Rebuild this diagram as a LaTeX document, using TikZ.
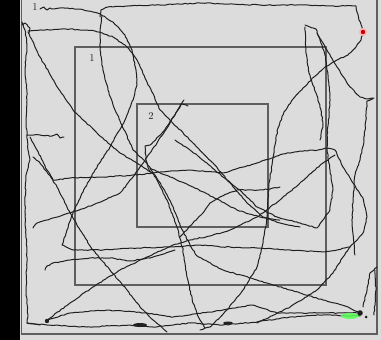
\documentclass[tikz,border=0pt]{standalone}
\usetikzlibrary{decorations.pathmorphing}
\definecolor{bgc}{RGB}{220,220,220}
\definecolor{sqc}{RGB}{95,95,95}
\definecolor{trc}{RGB}{32,32,32}
\pgfmathsetseed{7}
\tikzset{
  traj/.style={draw=trc,line width=1pt,line join=round,line cap=round,
    decorate,decoration={random steps,segment length=2.5pt,amplitude=0.45pt}},
  sq/.style={draw=sqc,line width=1.4pt},
  lab/.style={font=\fontsize{10.5}{12}\selectfont,text=trc,inner sep=0pt}
}
\begin{document}
\begin{tikzpicture}[x=1pt,y=-1pt]
\useasboundingbox (0,0) rectangle (381,340);
\fill[black] (0,0) rectangle (20,340);
\fill[bgc] (20,0) rectangle (381,340);
% outer frame
\draw[sq,line width=1.2pt] (21.5,0) -- (21.5,334) -- (377,334) -- (377,0);
% squares
\draw[sq] (75,47) rectangle (326,285);
\draw[sq] (137,104) rectangle (268,227);
% labels
\node[lab] (l0) at (35,7) {1};
\node[lab] (l1) at (92,58) {1};
\node[lab] (l2) at (151,116) {2};
% trajectory
\draw[traj] (100,17) -- (101,10) -- (108,7) -- (130,6) -- (160,5) -- (200,3) -- (230,4) -- (260,5) -- (300,5) -- (330,6) -- (356,6) -- (357,12) -- (359,20) -- (362,27) -- (363,32);
\draw[traj] (363,32) -- (361,40) -- (356,47) -- (348,55) -- (337,60) -- (325,67) -- (314,77) -- (303,88) -- (293,99) -- (284,112) -- (278,128) -- (275,145) -- (272,165) -- (269,183) -- (267,217) -- (263,243) -- (257,267) -- (243,290) -- (227,310) -- (210,327) -- (200,330);
\draw[traj] (22,22) -- (25,30) -- (27,45) -- (25,70) -- (27,95) -- (26,120) -- (27,135) -- (28,150) -- (30,160) -- (26,175) -- (25,200) -- (25,217) -- (27,250) -- (26,290) -- (28,315) -- (27,323) -- (40,325);
\draw[traj] (22,25) -- (25,23) -- (30,28) -- (29,33);
\draw[traj] (27,135) -- (40,135) -- (52,136) -- (57,134) -- (60,138) -- (64,137);
\draw[traj] (30,137) -- (37,150) -- (47,170) -- (57,187) -- (67,207) -- (80,230) -- (93,250) -- (110,270) -- (127,290) -- (140,307) -- (153,320) -- (167,332);
\draw[traj] (33,157) -- (40,163) -- (47,172) -- (53,180) -- (70,178) -- (103,177) -- (137,175) -- (160,172) -- (190,170) -- (223,173) -- (257,163) -- (283,154) -- (300,151) -- (318,150) -- (327,148) -- (335,150) -- (343,167) -- (353,183) -- (363,198) -- (367,217) -- (363,233) -- (350,247) -- (337,250) -- (323,252) -- (290,250) -- (257,248) -- (223,247) -- (200,245) -- (170,247) -- (137,248) -- (103,250) -- (73,250) -- (62,245) -- (67,230) -- (73,212) -- (83,192) -- (95,170) -- (110,147) -- (125,120) -- (133,100) -- (137,85) -- (136,70) -- (132,50) -- (125,35) -- (113,22) -- (100,14) -- (80,9) -- (60,8) -- (54,9) -- (50,8) -- (47,10) -- (44,7) -- (40,9);
\draw[traj] (28,32) -- (40,57) -- (55,83) -- (73,110) -- (97,133) -- (120,153) -- (140,165) -- (155,175) -- (163,188) -- (172,205) -- (180,225) -- (190,245) -- (197,256) -- (223,270) -- (257,280) -- (290,290) -- (323,300) -- (345,306) -- (358,312);
\draw[traj] (28,31) -- (45,30) -- (70,29) -- (95,31) -- (113,37) -- (127,47) -- (137,60) -- (145,78) -- (152,92) -- (160,110) -- (177,127) -- (193,143) -- (213,163) -- (230,183) -- (247,203) -- (263,217) -- (280,223) -- (300,227);
\draw[traj] (102,16) -- (100,30) -- (100,50) -- (103,70) -- (108,90) -- (115,110) -- (122,125) -- (133,150) -- (147,163) -- (157,180) -- (167,200) -- (177,227) -- (183,250) -- (187,277) -- (193,303) -- (200,320) -- (205,328);
\draw[traj] (188,106) -- (181,104) -- (170,123) -- (157,143) -- (147,157) -- (140,167) -- (133,177) -- (120,193) -- (93,205) -- (73,212) -- (53,218) -- (37,223) -- (33,228);
\draw[traj] (184,100) -- (175,115) -- (162,133) -- (150,145) -- (145,146) -- (146,160) -- (150,172);
\draw[traj] (175,140) -- (190,150) -- (207,163) -- (223,177) -- (240,190) -- (257,207) -- (277,217) -- (300,223) -- (317,228) -- (323,220) -- (330,210) -- (333,190) -- (330,170) -- (327,150) -- (327,135) -- (329,115) -- (330,95) -- (328,75) -- (325,55) -- (320,40) -- (316,29) -- (310,27) -- (305,25);
\draw[traj] (305,27) -- (306,50) -- (309,73) -- (316,93) -- (321,110) -- (323,125) -- (320,140);
\draw[traj] (317,33) -- (327,50) -- (337,67) -- (350,87) -- (360,97) -- (368,99) -- (374,98) -- (367,101) -- (366,120) -- (364,140) -- (360,160) -- (355,175) -- (353,200) -- (352,225) -- (354,243) -- (355,255);
\draw[traj] (47,320) -- (70,303) -- (93,287) -- (120,270) -- (147,257) -- (173,245) -- (190,240) -- (210,236) -- (230,230) -- (257,217) -- (280,200) -- (300,183) -- (323,163) -- (335,155);
\draw[traj] (47,320) -- (70,313) -- (107,310) -- (147,313) -- (173,317) -- (210,312) -- (223,310) -- (253,305) -- (277,313) -- (323,313) -- (357,313);
\draw[traj] (27,323) -- (47,325) -- (87,327) -- (130,325) -- (153,327) -- (190,323) -- (223,325) -- (257,322) -- (290,317) -- (323,315) -- (360,316);
\draw[traj] (257,323) -- (290,307) -- (317,290) -- (333,273) -- (343,257) -- (350,247);
\draw[traj] (150,168) -- (170,177) -- (193,187) -- (213,197) -- (237,210) -- (260,217) -- (280,220);
\draw[traj] (280,187) -- (263,190) -- (237,190) -- (220,197) -- (210,203) -- (203,213) -- (193,223) -- (180,237);
\draw[traj] (377,267) -- (370,273) -- (367,290) -- (363,307);
\draw[traj] (375,270) -- (376,290) -- (374,315);
\draw[traj] (45,270) -- (47,266) -- (53,263) -- (70,260) -- (90,258) -- (110,258) -- (130,261) -- (150,258) -- (175,250);
% end markers
\fill[trc] (140,325) ellipse (7 and 2);
\fill[trc] (228,323) ellipse (5 and 1.5);
\fill[green!65!white,opacity=0.85] (350,316) ellipse (9 and 3);
\fill[trc] (360,313) circle (2.8);
\fill[trc] (366,317) circle (1.5);
\fill[trc] (47,321) circle (2.2);
\fill[red!30!white] (363,32) circle (4);
\fill[red!80!black] (363,32) circle (2.2);
\end{tikzpicture}
\end{document}
